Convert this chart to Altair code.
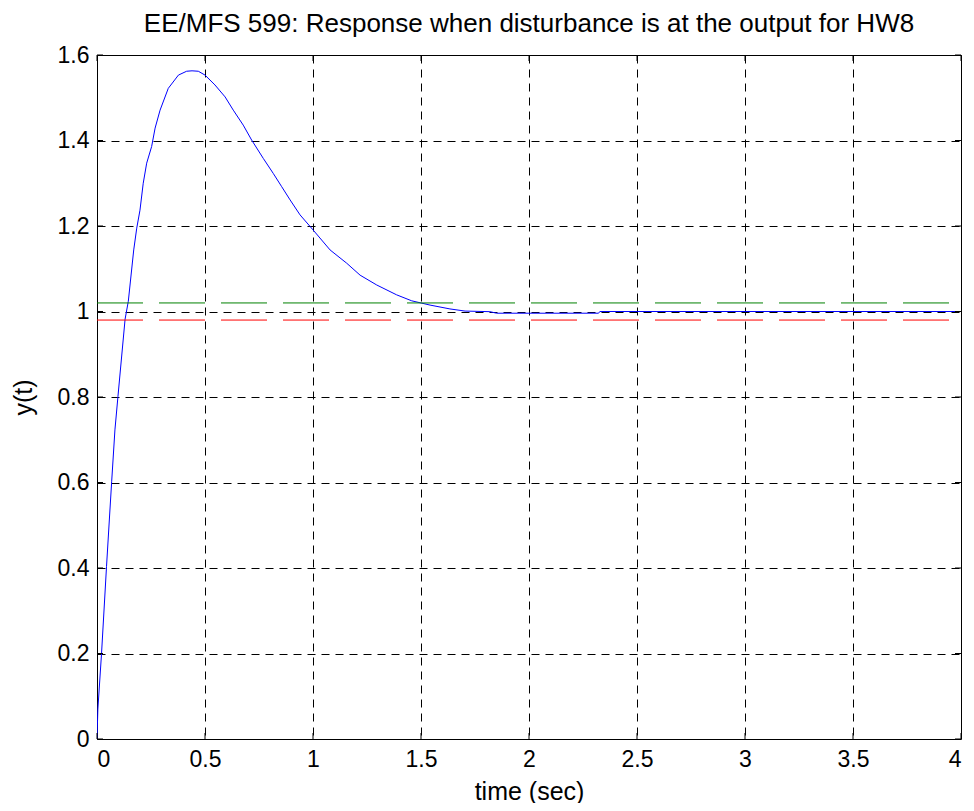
import altair as alt
import pandas as pd

# response curve
t_vals = [0, 0.004, 0.021, 0.044, 0.068, 0.083, 0.097, 0.130, 0.145, 0.170, 0.184,
          0.199, 0.214, 0.230, 0.253, 0.269, 0.292, 0.330, 0.377, 0.415, 0.440,
          0.469, 0.500, 0.546, 0.593, 0.631, 0.677, 0.716, 0.770, 0.816, 0.855,
          0.894, 0.940, 1.000, 1.079, 1.156, 1.218, 1.295, 1.387, 1.457, 1.542,
          1.634, 1.704, 1.819, 1.850, 2.322, 2.328, 4.0]
y_vals = [0, 0.07, 0.2, 0.403, 0.603, 0.723, 0.801, 0.982, 1.024, 1.144, 1.195,
          1.237, 1.300, 1.347, 1.386, 1.429, 1.471, 1.522, 1.553, 1.562, 1.563,
          1.562, 1.553, 1.530, 1.502, 1.471, 1.436, 1.401, 1.358, 1.323, 1.292,
          1.261, 1.226, 1.191, 1.144, 1.113, 1.085, 1.062, 1.039, 1.025, 1.015,
          1.006, 1.001, 0.9996, 0.996, 0.996, 1.0, 1.0]

band_upper = 1.02
band_lower = 0.98
t_end = 4.0

x_ticks = [0, 0.5, 1, 1.5, 2, 2.5, 3, 3.5, 4]
y_ticks = [0, 0.2, 0.4, 0.6, 0.8, 1.0, 1.2, 1.4, 1.6]

W, H = 864, 684
FONT = "Liberation Sans"

curve = pd.DataFrame({"t": t_vals, "y": y_vals})
bands = pd.DataFrame({"t": [0, t_end, 0, t_end],
                      "y": [band_upper, band_upper, band_lower, band_lower],
                      "which": ["upper", "upper", "lower", "lower"]})
xt = pd.DataFrame({"t": x_ticks})
yt = pd.DataFrame({"y": y_ticks})

xscale = alt.Scale(domain=[0, 4], nice=False, zero=False)
yscale = alt.Scale(domain=[0, 1.6], nice=False, zero=False)

x_axis = alt.Axis(values=x_ticks, format="~g", title="time (sec)", grid=True,
                  gridDash=[8, 6], gridColor="black", gridOpacity=1, gridWidth=1,
                  tickSize=0, labelPadding=9, titlePadding=8, domain=False)
y_axis = alt.Axis(values=y_ticks, format="~g", title="y(t)", grid=True,
                  gridDash=[8, 6], gridColor="black", gridOpacity=1, gridWidth=1,
                  tickSize=0, labelPadding=8, titlePadding=21, domain=False)

base_line = alt.Chart(curve).mark_line(color="#0000ff", strokeWidth=1, clip=True).encode(
    x=alt.X("t:Q", scale=xscale, axis=x_axis),
    y=alt.Y("y:Q", scale=yscale, axis=y_axis),
)

up = alt.Chart(bands).transform_filter(alt.datum.which == "upper").mark_line(
    color="#008000", strokeWidth=1, strokeDash=[46, 16]).encode(
    x=alt.X("t:Q", scale=xscale), y=alt.Y("y:Q", scale=yscale))
lo = alt.Chart(bands).transform_filter(alt.datum.which == "lower").mark_line(
    color="#ff0000", strokeWidth=1, strokeDash=[46, 16]).encode(
    x=alt.X("t:Q", scale=xscale), y=alt.Y("y:Q", scale=yscale))

tick_bottom = alt.Chart(xt).mark_rule(color="black", strokeWidth=1).encode(
    x=alt.X("t:Q", scale=xscale), y=alt.value(H), y2=alt.value(H - 6))
tick_top = alt.Chart(xt).mark_rule(color="black", strokeWidth=1).encode(
    x=alt.X("t:Q", scale=xscale), y=alt.value(0), y2=alt.value(6))
tick_left = alt.Chart(yt).mark_rule(color="black", strokeWidth=1).encode(
    y=alt.Y("y:Q", scale=yscale), x=alt.value(0), x2=alt.value(6))
tick_right = alt.Chart(yt).mark_rule(color="black", strokeWidth=1).encode(
    y=alt.Y("y:Q", scale=yscale), x=alt.value(W), x2=alt.value(W - 6))

chart = alt.layer(base_line, up, lo, tick_bottom, tick_top, tick_left, tick_right).properties(
    width=W, height=H,
    title=alt.TitleParams("EE/MFS 599: Response when disturbance is at the output for HW8",
                          anchor="middle", fontSize=26, font=FONT, fontWeight="normal",
                          color="black", offset=7),
    autosize=alt.AutoSizeParams(type="none"),
    padding={"left": 89, "top": 47, "right": 5, "bottom": 64},
).configure_view(stroke="black", strokeWidth=1).configure_axis(
    labelFont=FONT, titleFont=FONT, labelFontSize=23, titleFontSize=25,
    labelColor="black", titleColor="black", titleFontWeight="normal",
)

chart.save("out.html", embed_options={"renderer": "svg", "actions": False})
